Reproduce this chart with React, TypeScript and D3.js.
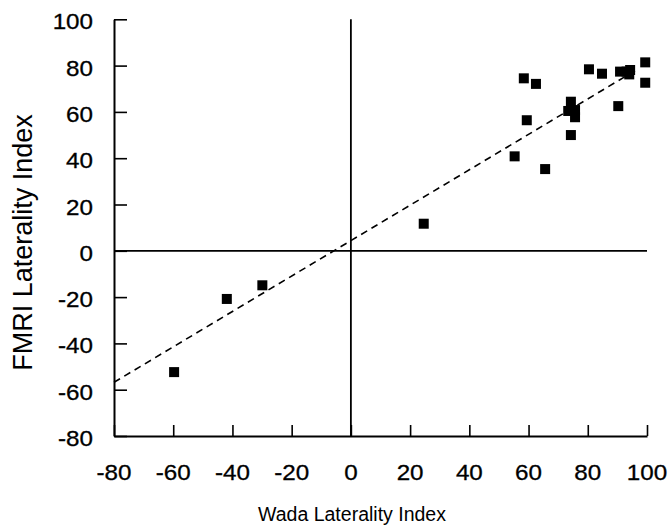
import { useRef, useEffect } from 'react'
import * as d3 from 'd3'

// Wada vs fMRI laterality index
const wada = [
  -59.7, -41.9, -29.9, 24.6, 58.4, 62.5, 80.4, 84.8, 90.9, 93.1, 94.0, 94.3,
  99.4, 99.4, 90.3, 74.3, 73.4, 75.7, 75.7, 74.3, 59.4, 55.3, 65.6,
]
const fmri = [
  -52.4, -20.8, -14.9, 11.7, 74.5, 72.1, 78.4, 76.5, 77.4, 77.4, 76.2, 78.1,
  81.4, 72.6, 62.5, 64.4, 60.4, 60.8, 57.7, 50.0, 56.4, 40.8, 35.3,
]
const xTicks = [-80, -60, -40, -20, 0, 20, 40, 60, 80, 100]
const yTicks = [-80, -60, -40, -20, 0, 20, 40, 60, 80, 100]
// fitted line: fmri = slope * wada + intercept
const fitSlope = 0.765
const fitIntercept = 4.4
const fitRange = [-80, 96.5]

const App = () => {
  const svgRef = useRef<SVGSVGElement>(null)

  useEffect(() => {
    const svg = d3.select(svgRef.current)
    svg.selectAll('*').remove()

    const x = d3.scaleLinear().domain([-80, 100]).range([114, 647])
    const y = d3.scaleLinear().domain([-80, 100]).range([436, 19.3])

    const font = '"Liberation Sans", Arial, Helvetica, sans-serif'
    const g = svg.append('g')

    // zero lines
    g.append('line')
      .attr('x1', x(0)).attr('x2', x(0))
      .attr('y1', y(100)).attr('y2', y(-80))
      .attr('stroke', '#000').attr('stroke-width', 1.8)
    g.append('line')
      .attr('x1', x(-80)).attr('x2', x(100))
      .attr('y1', y(0)).attr('y2', y(0))
      .attr('stroke', '#000').attr('stroke-width', 1.8)

    // x axis
    const xAxis = d3.axisTop(x).tickValues(xTicks).tickSize(11).tickSizeOuter(0).tickFormat(() => '')
    const xg = g.append('g').attr('transform', `translate(0,${y(-80)})`).call(xAxis)
    // y axis
    const yAxis = d3.axisRight(y).tickValues(yTicks).tickSize(13).tickSizeOuter(0).tickFormat(() => '')
    const yg = g.append('g').attr('transform', `translate(${x(-80)},0)`).call(yAxis)
    ;[xg, yg].forEach((a) => {
      a.selectAll('.domain').attr('stroke', '#000').attr('stroke-width', 2)
      a.selectAll('.tick line').attr('stroke', '#000').attr('stroke-width', 1.6)
    })

    // tick labels
    g.selectAll('.xlab')
      .data(xTicks)
      .join('text')
      .attr('transform', (d) => `translate(${x(d)},479.5) scale(1.1,1)`)
      .attr('text-anchor', 'middle')
      .attr('font-family', font)
      .attr('font-size', 22)
      .attr('stroke', '#000')
      .attr('stroke-width', 0.3)
      .text((d) => d)
    g.selectAll('.ylab')
      .data(yTicks)
      .join('text')
      .attr('transform', (d) => `translate(93,${y(d) + 10}) scale(1.1,1)`)
      .attr('text-anchor', 'end')
      .attr('font-family', font)
      .attr('font-size', 22)
      .attr('stroke', '#000')
      .attr('stroke-width', 0.3)
      .text((d) => d)

    // axis titles
    g.append('text')
      .attr('x', 352).attr('y', 521)
      .attr('text-anchor', 'middle')
      .attr('font-family', font)
      .attr('font-size', 19.5)
      .text('Wada Laterality Index')
    g.append('text')
      .attr('transform', `translate(32,${(103 + 382) / 2}) rotate(-90)`)
      .attr('text-anchor', 'middle')
      .attr('font-family', font)
      .attr('font-size', 27)
      .text('FMRI Laterality Index')

    // regression line
    const fit = d3.line<number>()
      .x((d) => x(d))
      .y((d) => y(fitSlope * d + fitIntercept))
    g.append('path')
      .attr('d', fit(fitRange))
      .attr('fill', 'none')
      .attr('stroke', '#000')
      .attr('stroke-width', 1.6)
      .attr('stroke-dasharray', '7 5')

    // points
    const s = 10
    g.selectAll('.pt')
      .data(wada.map((w, i) => [w, fmri[i]]))
      .join('rect')
      .attr('x', (d) => x(d[0]) - s / 2)
      .attr('y', (d) => y(d[1]) - s / 2)
      .attr('width', s)
      .attr('height', s)
      .attr('fill', '#000')
  }, [])

  return (
    <svg
      ref={svgRef}
      width={670}
      height={527}
      style={{ position: 'absolute', left: 0, top: 0, background: '#fff' }}
    />
  )
}

export default App
